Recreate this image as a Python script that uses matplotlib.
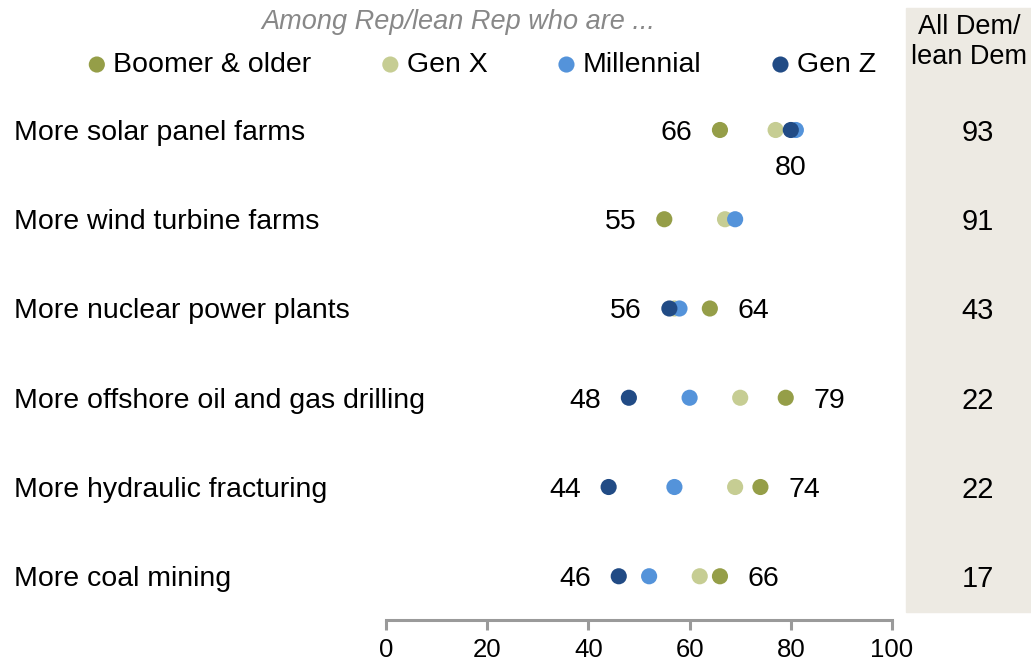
import matplotlib.pyplot as plt
import matplotlib.transforms as mtransforms
from matplotlib.patches import Rectangle
import numpy as np

plt.rcParams['font.family'] = ['Liberation Sans', 'DejaVu Sans']

# data
categories = ["More solar panel farms", "More wind turbine farms",
              "More nuclear power plants", "More offshore oil and gas drilling",
              "More hydraulic fracturing", "More coal mining"]
series_names = ["Boomer & older", "Gen X", "Millennial", "Gen Z"]
boomer = [66, 55, 64, 79, 74, 66]
gen_x = [77, 67, 57, 70, 69, 62]
millennial = [81, 69, 58, 60, 57, 52]
gen_z = [80, np.nan, 56, 48, 44, 46]
all_dem = [93, 91, 43, 22, 22, 17]
xticks = [0, 20, 40, 60, 80, 100]

# which value gets a number next to it (series, side)
value_labels = [
    [("Boomer & older", "left"), ("Gen Z", "below")],
    [("Boomer & older", "left")],
    [("Gen Z", "left"), ("Boomer & older", "right")],
    [("Gen Z", "left"), ("Boomer & older", "right")],
    [("Gen Z", "left"), ("Boomer & older", "right")],
    [("Gen Z", "left"), ("Boomer & older", "right")],
]

colors = {"Boomer & older": "#959E48", "Gen X": "#C6CD93",
          "Millennial": "#5493DA", "Gen Z": "#214B85"}
values = {"Boomer & older": boomer, "Gen X": gen_x,
          "Millennial": millennial, "Gen Z": gen_z}

W, H = 1031, 665
fig = plt.figure(figsize=(W / 100, H / 100), dpi=100)
ax = fig.add_axes([386 / W, 1 - 620 / H, (892 - 386) / W, (620 - 90) / H])
ax.set_facecolor('none')

# grey panel for the Dem column
fig.patches.append(Rectangle((906 / W, 1 - 612 / H), 125 / W, 604 / H,
                             transform=fig.transFigure, color='#EDEAE3', zorder=0))

y = np.arange(len(categories))
handles = []
for name in series_names:
    h = ax.scatter(values[name], y, s=135, color=colors[name], edgecolors='none',
                   zorder=3, label=name, clip_on=False)
    handles.append(h)

for i, labs in enumerate(value_labels):
    for name, side in labs:
        v = values[name][i]
        if side == "left":
            ax.annotate(str(int(v)), (v, i), xytext=(-20, 0), textcoords='offset points',
                        ha='right', va='center_baseline', fontsize=20.5)
        elif side == "right":
            ax.annotate(str(int(v)), (v, i), xytext=(20, 0), textcoords='offset points',
                        ha='left', va='center_baseline', fontsize=20.5)
        else:
            ax.annotate(str(int(v)), (v, i), xytext=(0, -25), textcoords='offset points',
                        ha='center', va='center_baseline', fontsize=20.5)

ax.set_xlim(0, 100)
ax.set_ylim(5.49, -0.448)
ax.set_xticks(xticks)
ax.set_yticks([])
for s in ['top', 'right', 'left']:
    ax.spines[s].set_visible(False)
ax.spines['bottom'].set_color('#9A9A9A')
ax.spines['bottom'].set_linewidth(2.2)
ax.tick_params(axis='x', direction='out', length=7, width=2.2, color='#9A9A9A',
               labelsize=18.5, pad=6)

# category labels and Dem numbers
tr = mtransforms.blended_transform_factory(fig.transFigure, ax.transData)
for i, cat in enumerate(categories):
    fig.text(14 / W, i, cat, transform=tr, ha='left', va='center_baseline', fontsize=20.5)
    fig.text(978 / W, i, str(all_dem[i]), transform=tr, ha='center',
             va='center_baseline', fontsize=21)

fig.text(969 / W, 1 - 42 / H, "All Dem/\nlean Dem", ha='center', va='center',
         fontsize=19.5, linespacing=1.2)
fig.text(458 / W, 1 - 22 / H, "Among Rep/lean Rep who are ...", ha='center',
         va='center', fontsize=19.5, style='italic', color='#888888')

fig.legend(handles=handles, loc='center left', bbox_to_anchor=(89 / W, 1 - 65 / H),
           ncol=4, frameon=False, fontsize=20.5, handlelength=0.55, handletextpad=0.3,
           columnspacing=2.5, borderpad=0, borderaxespad=0, markerscale=1.0)

fig.savefig("out.png", dpi=100)
